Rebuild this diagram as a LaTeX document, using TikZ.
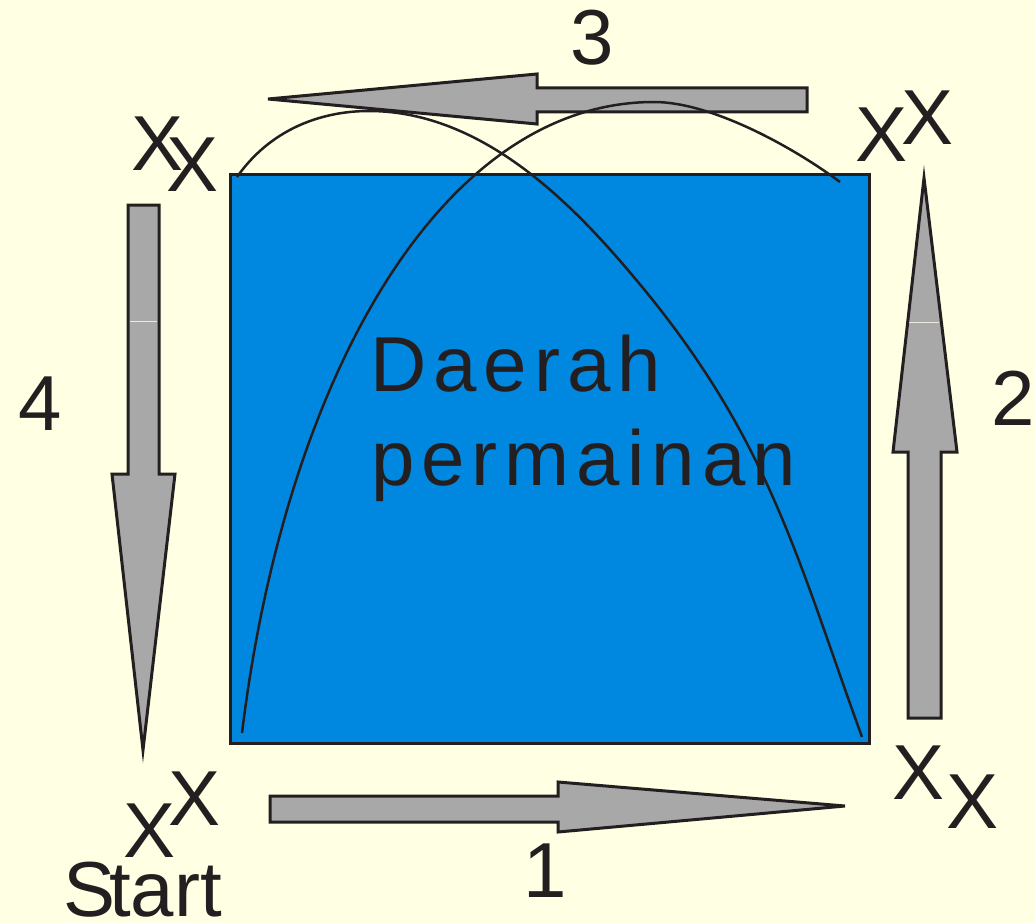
\documentclass[tikz,border=0pt]{standalone}
\usepackage{fontspec}
\setmainfont{Liberation Sans}
\definecolor{bgc}{RGB}{255,255,227}
\definecolor{fieldc}{RGB}{0,136,224}
\definecolor{ink}{RGB}{35,31,32}
\definecolor{arrowc}{RGB}{168,168,168}
\definecolor{glint}{RGB}{235,235,215}
\begin{document}
\begin{tikzpicture}[x=1pt,y=-1pt,
  lbl/.style={inner sep=0pt, anchor=base, text=ink, font=\fontsize{78}{94}\selectfont},
  word/.style={inner sep=0pt, anchor=base west, text=ink, font=\fontsize{78}{94}\selectfont\addfontfeature{LetterSpace=9}},
  bigarrow/.style={fill=arrowc, draw=ink, line width=3pt, line join=miter},
  trajectory/.style={draw=ink, line width=2.5pt},
  glintline/.style={draw=glint, line width=1pt}]
\fill[bgc] (0,0) rectangle (1035,923);
\useasboundingbox (0,0) rectangle (1035,923);
% playing field
\draw[fill=fieldc, draw=ink, line width=3pt] (230,174) rectangle (869,743);
% arrows
\draw[bigarrow] (270,796) -- (558,796) -- (558,782) -- (845,806) -- (558,832) -- (558,822) -- (270,822) -- cycle;
\draw[bigarrow] (908,718) -- (908,452) -- (893,452) -- (924,178) -- (957,452) -- (941,452) -- (941,718) -- cycle;
\draw[bigarrow] (807,88) -- (537,88) -- (537,74) -- (268,99) -- (537,124) -- (537,112) -- (807,112) -- cycle;
\draw[bigarrow] (128,205) -- (159,205) -- (159,474) -- (175,474) -- (143,750) -- (112,474) -- (128,474) -- cycle;
\draw[glintline] (130,321) -- (157,321);
\draw[glintline] (909,322) -- (939,322);
% trajectories
\coordinate (a0) at (242,733);
\coordinate (apk) at (654,102);
\coordinate (a1) at (840,182);
\draw[trajectory] (a0) .. controls (285,380) and (440,102) .. (apk)
                       .. controls (710,102) and (790,145) .. (a1);
\coordinate (b0) at (237,177);
\coordinate (bpk) at (369,111);
\coordinate (bm) at (638,282);
\coordinate (b1) at (862,737);
\draw[trajectory] (b0) .. controls (270,130) and (320,111) .. (bpk)
                       .. controls (486,111) and (578,210) .. (bm)
                       .. controls (769,439) and (797.5,559.6) .. (b1);
% labels
\node[word] (t1) at (370,391) {Daerah};
\node[word] (t2) at (371,485) {permainan};
\node[lbl] (n3) at (592,65) {3};
\node[lbl] (n4) at (40,430) {4};
\node[lbl] (n2) at (1013,425) {2};
\node[lbl] (n1) at (545,897) {1};
\node[lbl] (x1) at (158,170) {X};
\node[lbl] (x2) at (193,191) {X};
\node[lbl] (x3) at (881,161) {X};
\node[lbl] (x4) at (927,144) {X};
\node[lbl] (x5) at (150,857) {X};
\node[lbl] (x6) at (195,825) {X};
\node[lbl] (x7) at (918,799) {X};
\node[lbl] (x8) at (972,828) {X};
\node[inner sep=0pt, anchor=base west, text=ink, font=\fontsize{78}{94}\selectfont] (start) at (63,916) {S\kern-6pt tart};
\end{tikzpicture}
\end{document}
